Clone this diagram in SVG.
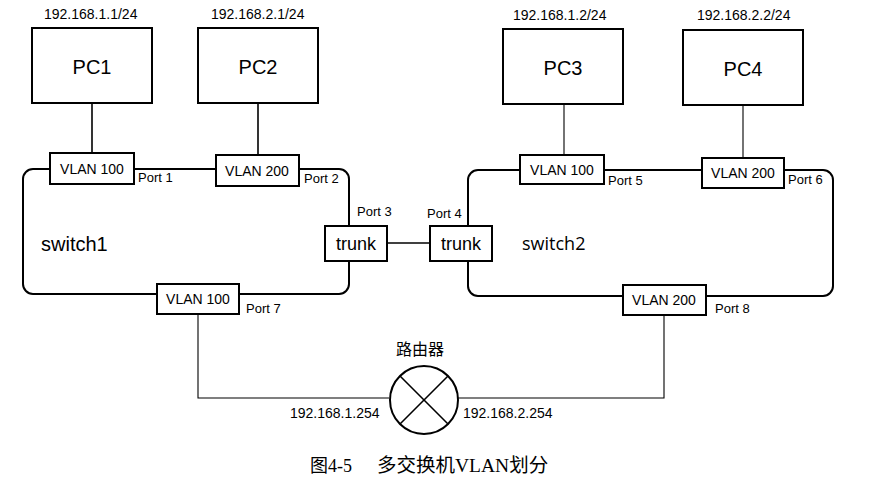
<svg xmlns="http://www.w3.org/2000/svg" width="874" height="486" viewBox="0 0 874 486">
<style>
.box{fill:#fff;stroke:#000;stroke-width:2}
.sw{fill:none;stroke:#000;stroke-width:2}
.ln{fill:none;stroke:#000;stroke-width:1.6}
.thin{fill:none;stroke:#000;stroke-width:1.1}
text{font-family:"Liberation Sans",Arial,sans-serif;fill:#000}
.pc{font-size:20px;text-anchor:middle}
.ip{font-size:14px}
.vl{font-size:14px;text-anchor:middle}
.pt{font-size:13px}
.tr{font-size:18px;text-anchor:middle}
.swl{font-size:20px}
</style>
<rect width="874" height="486" fill="#fff"/>
<g id="connectors">
<line class="ln" x1="92" y1="103" x2="92" y2="153"/>
<line class="ln" x1="258" y1="103" x2="258" y2="155"/>
<line class="thin" x1="564" y1="104" x2="564" y2="155"/>
<line class="thin" x1="743" y1="105" x2="743" y2="158"/>
<line class="ln" x1="387" y1="243" x2="430" y2="243"/>
<polyline class="thin" points="198,314 198,398 389,398"/>
<polyline class="thin" points="458,398 664,398 664,315"/>
</g>
<g id="switch1">
<rect class="sw" x="23" y="169" width="326" height="125" rx="10"/>
<text class="swl" x="41" y="251">switch1</text>
</g>
<g id="switch2">
<rect class="sw" x="468" y="170" width="365" height="126" rx="10"/>
<text class="swl" x="522" y="250" style="font-family:'Open Sans','Liberation Sans',sans-serif;font-size:18px">switch2</text>
</g>
<g id="pc1">
<rect class="box" x="32" y="28" width="120" height="75"/>
<text class="pc" x="92" y="74">PC1</text>
<text class="ip" x="44" y="19">192.168.1.1/24</text>
</g>
<g id="pc2">
<rect class="box" x="198" y="28" width="120" height="75"/>
<text class="pc" x="258" y="74">PC2</text>
<text class="ip" x="211" y="19">192.168.2.1/24</text>
</g>
<g id="pc3">
<rect class="box" x="503" y="29" width="120" height="75"/>
<text class="pc" x="563" y="75">PC3</text>
<text class="ip" x="513" y="20">192.168.1.2/24</text>
</g>
<g id="pc4">
<rect class="box" x="683" y="30" width="120" height="75"/>
<text class="pc" x="743" y="76">PC4</text>
<text class="ip" x="697" y="20">192.168.2.2/24</text>
</g>
<g id="port1">
<rect class="box" x="50" y="153" width="84" height="31"/>
<text class="vl" x="92" y="174">VLAN 100</text>
<text class="pt" x="138" y="182">Port 1</text>
</g>
<g id="port2">
<rect class="box" x="216" y="155" width="83" height="31"/>
<text class="vl" x="257" y="176">VLAN 200</text>
<text class="pt" x="304" y="183">Port 2</text>
</g>
<g id="port3">
<rect class="box" x="325" y="226" width="62" height="35"/>
<text class="tr" x="356" y="250">trunk</text>
<text class="pt" x="357" y="216">Port 3</text>
</g>
<g id="port4">
<rect class="box" x="430" y="226" width="62" height="35"/>
<text class="tr" x="461" y="250">trunk</text>
<text class="pt" x="427" y="218">Port 4</text>
</g>
<g id="port5">
<rect class="box" x="520" y="155" width="84" height="29"/>
<text class="vl" x="562" y="175">VLAN 100</text>
<text class="pt" x="608" y="185">Port 5</text>
</g>
<g id="port6">
<rect class="box" x="702" y="158" width="82" height="30"/>
<text class="vl" x="743" y="178">VLAN 200</text>
<text class="pt" x="788" y="184">Port 6</text>
</g>
<g id="port7">
<rect class="box" x="157" y="284" width="82" height="30"/>
<text class="vl" x="198" y="304">VLAN 100</text>
<text class="pt" x="246" y="313">Port 7</text>
</g>
<g id="port8">
<rect class="box" x="623" y="285" width="83" height="30"/>
<text class="vl" x="664" y="305">VLAN 200</text>
<text class="pt" x="715" y="313">Port 8</text>
</g>
<g id="router">
<circle cx="424" cy="400" r="34" fill="#fff" stroke="#000" stroke-width="2"/>
<line class="ln" x1="400" y1="376" x2="448" y2="424"/>
<line class="ln" x1="448" y1="376" x2="400" y2="424"/>
<text x="396" y="355" style="font-family:'Noto Sans CJK SC',sans-serif;font-size:16px">路由器</text>
<text class="ip" x="290" y="418">192.168.1.254</text>
<text class="ip" x="463" y="418">192.168.2.254</text>
</g>
<g id="caption">
<text x="310" y="472" style="font-family:'Liberation Serif','Noto Sans CJK SC',serif;font-size:18px">图4-5</text>
<text x="377" y="472" style="font-family:'Liberation Serif','Noto Sans CJK SC',serif;font-size:19.5px">多交换机VLAN划分</text>
</g>
</svg>
